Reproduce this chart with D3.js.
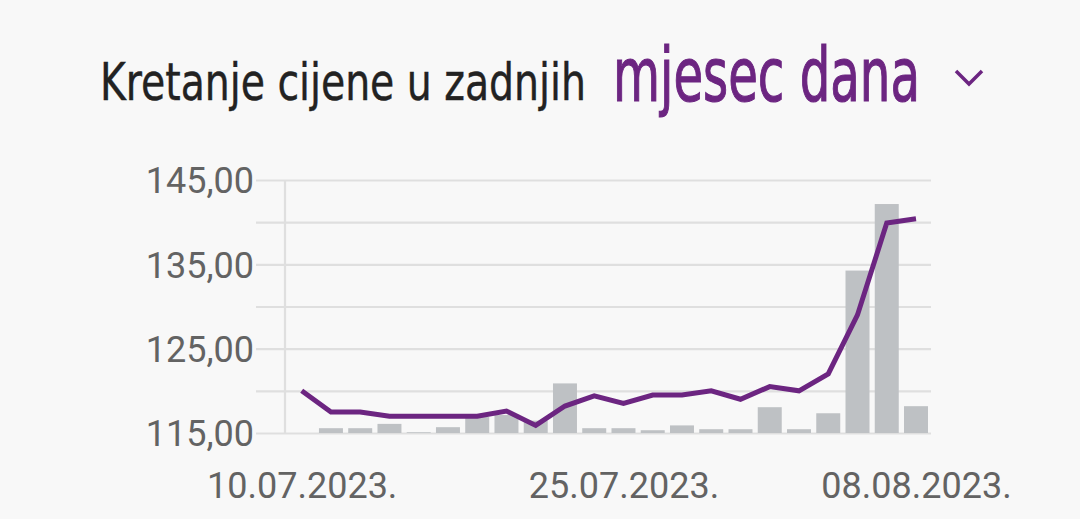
<!DOCTYPE html>
<html lang="hr">
<head>
    <meta charset='utf-8'>
    <title>Kretanje cijene</title>
    <style>
        body{
            margin: 0;
            background: #f8f8f8;
        }
        .title {
            font-family: "Ubuntu Condensed", "Liberation Sans Narrow", "DejaVu Sans Condensed", sans-serif;
        }
        .axis text {
            font-family: Roboto, "Noto Sans", sans-serif;
            font-size: 36px;
            fill: #636363;
        }
    </style>
</head>
<body>
<div id="chart"></div>
<script src='https://cdn.jsdelivr.net/npm/d3@7/dist/d3.min.js'></script>
<script>
    var width = 1080, height = 519;

    // trading days shown on the x axis
    var dates = ["10.07.2023.", "11.07.2023.", "12.07.2023.", "13.07.2023.", "14.07.2023.",
        "17.07.2023.", "18.07.2023.", "19.07.2023.", "20.07.2023.", "21.07.2023.",
        "24.07.2023.", "25.07.2023.", "26.07.2023.", "27.07.2023.", "28.07.2023.",
        "31.07.2023.", "01.08.2023.", "02.08.2023.", "03.08.2023.", "04.08.2023.",
        "07.08.2023.", "08.08.2023."];
    var prices = [120.0, 117.5, 117.5, 117.0, 117.0, 117.0, 117.0, 117.6, 115.9, 118.2, 119.4,
        118.5, 119.5, 119.5, 120.0, 119.0, 120.5, 120.0, 122.0, 129.0, 139.9, 140.4];
    // traded volume, relative units
    var volumes = [0, 1.9, 1.9, 3.6, 0.3, 2.3, 6.3, 7.1, 4.9, 19.6, 1.9,
        1.9, 1.1, 3.0, 1.5, 1.5, 10.2, 1.5, 7.8, 64.2, 90.5, 10.6];
    var yLabels = [115, 125, 135, 145];
    var yGrid = [115, 120, 125, 130, 135, 140, 145];
    var xLabels = ["10.07.2023.", "25.07.2023.", "08.08.2023."];

    var purple = "#6c2581";

    var svg = d3.select("#chart").append("svg")
        .attr("width", width).attr("height", height);

    // title: squeeze each piece horizontally to the width it has in the app
    function titlePart(str, x0, y0, size, w, color, sw) {
        var t = svg.append("text").attr("class", "title")
            .style("font-size", size + "px").style("fill", color)
            .text(str);
        if (sw) t.attr("stroke", color).attr("stroke-width", sw);
        var natural = t.node().getComputedTextLength();
        t.attr("transform", "translate(" + x0 + "," + y0 + ") scale(" + (w / natural) + ",1)");
    }
    titlePart("Kretanje cijene u zadnjih", 100, 100, 52, 486, "#222", 0.4);
    titlePart("mjesec dana", 613, 101, 74, 307, purple, 1.1);

    svg.append("path")
        .attr("d", "M956,71 L969,84 L982,71")
        .attr("fill", "none").attr("stroke", purple)
        .attr("stroke-width", 3.5);

    var x = d3.scalePoint().domain(dates).range([301.7, 916]);
    var barW = x.step() * 0.82;
    var y = d3.scaleLinear().domain([115, 145]).range([433, 180]);
    var yVol = d3.scaleLinear().domain([0, 100]).range([433, 180]);

    var fmt = d3.formatLocale({decimal: ",", thousands: ".", grouping: [3], currency: ["", " €"]}).format(".2f");

    // grid lines
    var grid = svg.append("g").attr("transform", "translate(256,0)")
        .call(d3.axisLeft(y).tickValues(yGrid).tickSize(-675).tickFormat(""));
    grid.select(".domain").remove();
    grid.selectAll("line").attr("stroke", "#dfdfdf").attr("stroke-width", 2.2);

    svg.append("line")
        .attr("x1", 285).attr("x2", 285)
        .attr("y1", y(145)).attr("y2", y(115))
        .attr("stroke", "#dfdfdf").attr("stroke-width", 2.2);

    var yAxis = svg.append("g").attr("class", "axis")
        .attr("transform", "translate(256,0)")
        .call(d3.axisLeft(y).tickValues(yLabels).tickSize(0).tickPadding(2).tickFormat(fmt));
    yAxis.select(".domain").remove();
    yAxis.selectAll("text").attr("dy", "0.36em");

    // volume bars
    svg.append("g").selectAll("rect")
        .data(volumes).enter()
        .append("rect")
        .attr("x", function(d, i) { return x(dates[i]) - barW / 2; })
        .attr("width", barW)
        .attr("y", function(d) { return yVol(d); })
        .attr("height", function(d) { return yVol(0) - yVol(d); })
        .attr("fill", "#bec1c4");

    // price line
    var line = d3.line()
        .x(function(d, i) { return x(dates[i]); })
        .y(function(d) { return y(d); });
    svg.append("path")
        .datum(prices)
        .attr("d", line)
        .attr("fill", "none")
        .attr("stroke", purple)
        .attr("stroke-width", 5)
        .attr("stroke-linejoin", "miter");

    var xAxis = svg.append("g").attr("class", "axis")
        .attr("transform", "translate(0,433)")
        .call(d3.axisBottom(x).tickValues(xLabels).tickSize(0).tickPadding(39));
    xAxis.select(".domain").remove();
</script>
</body>
</html>
